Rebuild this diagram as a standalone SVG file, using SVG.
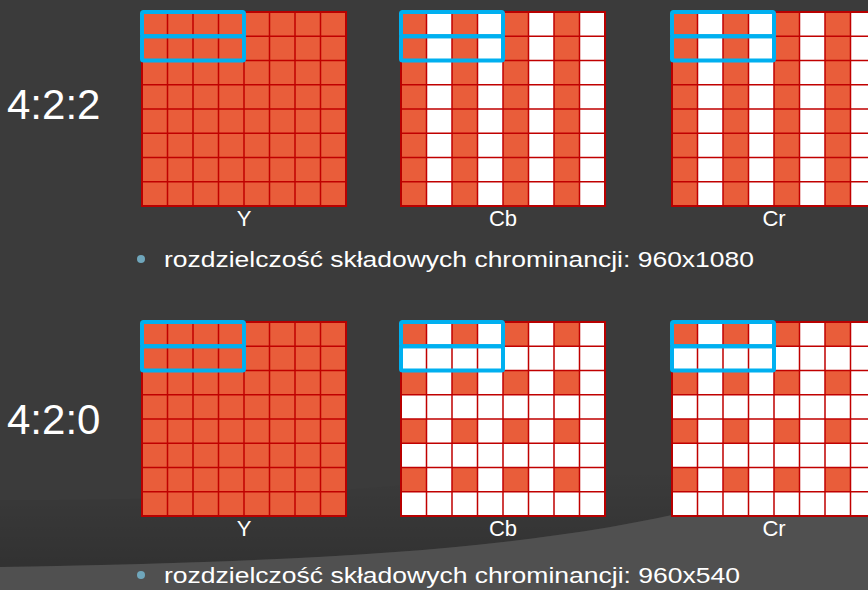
<svg xmlns="http://www.w3.org/2000/svg" xmlns:xlink="http://www.w3.org/1999/xlink" width="868" height="590" viewBox="0 0 868 590">
<style>
.bg{fill:#3b3b3b}
.light{fill:#505050}
.or{fill:#e95d3a}
.wh{fill:#ffffff}
.gl{fill:none;stroke:#c00000;stroke-width:1.5}
.bd{fill:none;stroke:#b80000;stroke-width:2}
.bl{fill:none;stroke:#00b0f0;stroke-width:4}
.big{font-family:"Liberation Sans",Arial,sans-serif;font-size:42px;fill:#ffffff}
.lab{font-family:"Liberation Sans",Arial,sans-serif;font-size:22px;fill:#ffffff;text-anchor:middle}
.txt{font-family:"Liberation Sans",Arial,sans-serif;font-size:22px;fill:#ffffff}
.dot{fill:#6fa6bb}
</style>
<defs>
<linearGradient id="shadow" gradientUnits="userSpaceOnUse" x1="0" y1="470" x2="0" y2="567">
<stop offset="0" stop-color="#000" stop-opacity="0"/>
<stop offset="1" stop-color="#000" stop-opacity="0.16"/>
</linearGradient>
<path id="lines" class="gl" d="M25.5 0V194M51 0V194M76.5 0V194M102 0V194M127.5 0V194M153 0V194M178.5 0V194M0 24.25H204M0 48.5H204M0 72.75H204M0 97H204M0 121.25H204M0 145.5H204M0 169.75H204"/>
<g id="cols">
<rect class="or" x="0" y="0" width="25.5" height="194"/>
<rect class="or" x="51" y="0" width="25.5" height="194"/>
<rect class="or" x="102" y="0" width="25.5" height="194"/>
<rect class="or" x="153" y="0" width="25.5" height="194"/>
</g>
<g id="row420">
<rect class="or" x="0" y="0" width="25.5" height="24.25"/>
<rect class="or" x="51" y="0" width="25.5" height="24.25"/>
<rect class="or" x="102" y="0" width="25.5" height="24.25"/>
<rect class="or" x="153" y="0" width="25.5" height="24.25"/>
</g>
<g id="cells420">
<use xlink:href="#row420" href="#row420"/>
<use xlink:href="#row420" href="#row420" y="48.5"/>
<use xlink:href="#row420" href="#row420" y="97"/>
<use xlink:href="#row420" href="#row420" y="145.5"/>
</g>
<g id="blue">
<rect class="bl" x="0" y="0" width="102" height="24.25" rx="1.5"/>
<rect class="bl" x="0" y="24.25" width="102" height="24.25" rx="1.5"/>
</g>
<g id="frame">
<use xlink:href="#lines" href="#lines"/>
<rect class="bd" x="0" y="0" width="204" height="194"/>
</g>
</defs>
<g id="background">
<rect class="bg" x="0" y="0" width="868" height="590"/>
<path d="M0,567 C400,560 650,545 868,455 L868,380 C650,470 400,500 0,500 Z" fill="url(#shadow)"/>
<path class="light" d="M0,567 C400,560 650,545 868,455 L868,590 L0,590 Z"/>
</g>
<g id="title-422"><text class="big" x="7" y="119">4:2:2</text></g>
<g id="title-420"><text class="big" x="7" y="434">4:2:0</text></g>
<g id="y-422" transform="translate(142,12)">
<rect class="or" width="204" height="194"/>
<use xlink:href="#frame" href="#frame"/>
<use xlink:href="#blue" href="#blue"/>
</g>
<g id="cb-422" transform="translate(401,12)">
<rect class="wh" width="204" height="194"/>
<use xlink:href="#cols" href="#cols"/>
<use xlink:href="#frame" href="#frame"/>
<use xlink:href="#blue" href="#blue"/>
</g>
<g id="cr-422" transform="translate(672,12)">
<rect class="wh" width="204" height="194"/>
<use xlink:href="#cols" href="#cols"/>
<use xlink:href="#frame" href="#frame"/>
<use xlink:href="#blue" href="#blue"/>
</g>
<g id="y-420" transform="translate(142,322)">
<rect class="or" width="204" height="194"/>
<use xlink:href="#frame" href="#frame"/>
<use xlink:href="#blue" href="#blue"/>
</g>
<g id="cb-420" transform="translate(401,322)">
<rect class="wh" width="204" height="194"/>
<use xlink:href="#cells420" href="#cells420"/>
<use xlink:href="#frame" href="#frame"/>
<use xlink:href="#blue" href="#blue"/>
</g>
<g id="cr-420" transform="translate(672,322)">
<rect class="wh" width="204" height="194"/>
<use xlink:href="#cells420" href="#cells420"/>
<use xlink:href="#frame" href="#frame"/>
<use xlink:href="#blue" href="#blue"/>
</g>
<g id="labels">
<text class="lab" x="244" y="226">Y</text>
<text class="lab" x="503" y="226">Cb</text>
<text class="lab" x="774" y="226">Cr</text>
<text class="lab" x="244" y="536">Y</text>
<text class="lab" x="503" y="536">Cb</text>
<text class="lab" x="774" y="536">Cr</text>
</g>
<g id="bullet-422">
<circle class="dot" cx="141" cy="259" r="4"/>
<text class="txt" x="164" y="267" textLength="590" lengthAdjust="spacingAndGlyphs">rozdzielczość składowych chrominancji: 960x1080</text>
</g>
<g id="bullet-420">
<circle class="dot" cx="141" cy="575" r="4"/>
<text class="txt" x="164" y="583" textLength="576" lengthAdjust="spacingAndGlyphs">rozdzielczość składowych chrominancji: 960x540</text>
</g>
<g id="connectors"/>
</svg>
